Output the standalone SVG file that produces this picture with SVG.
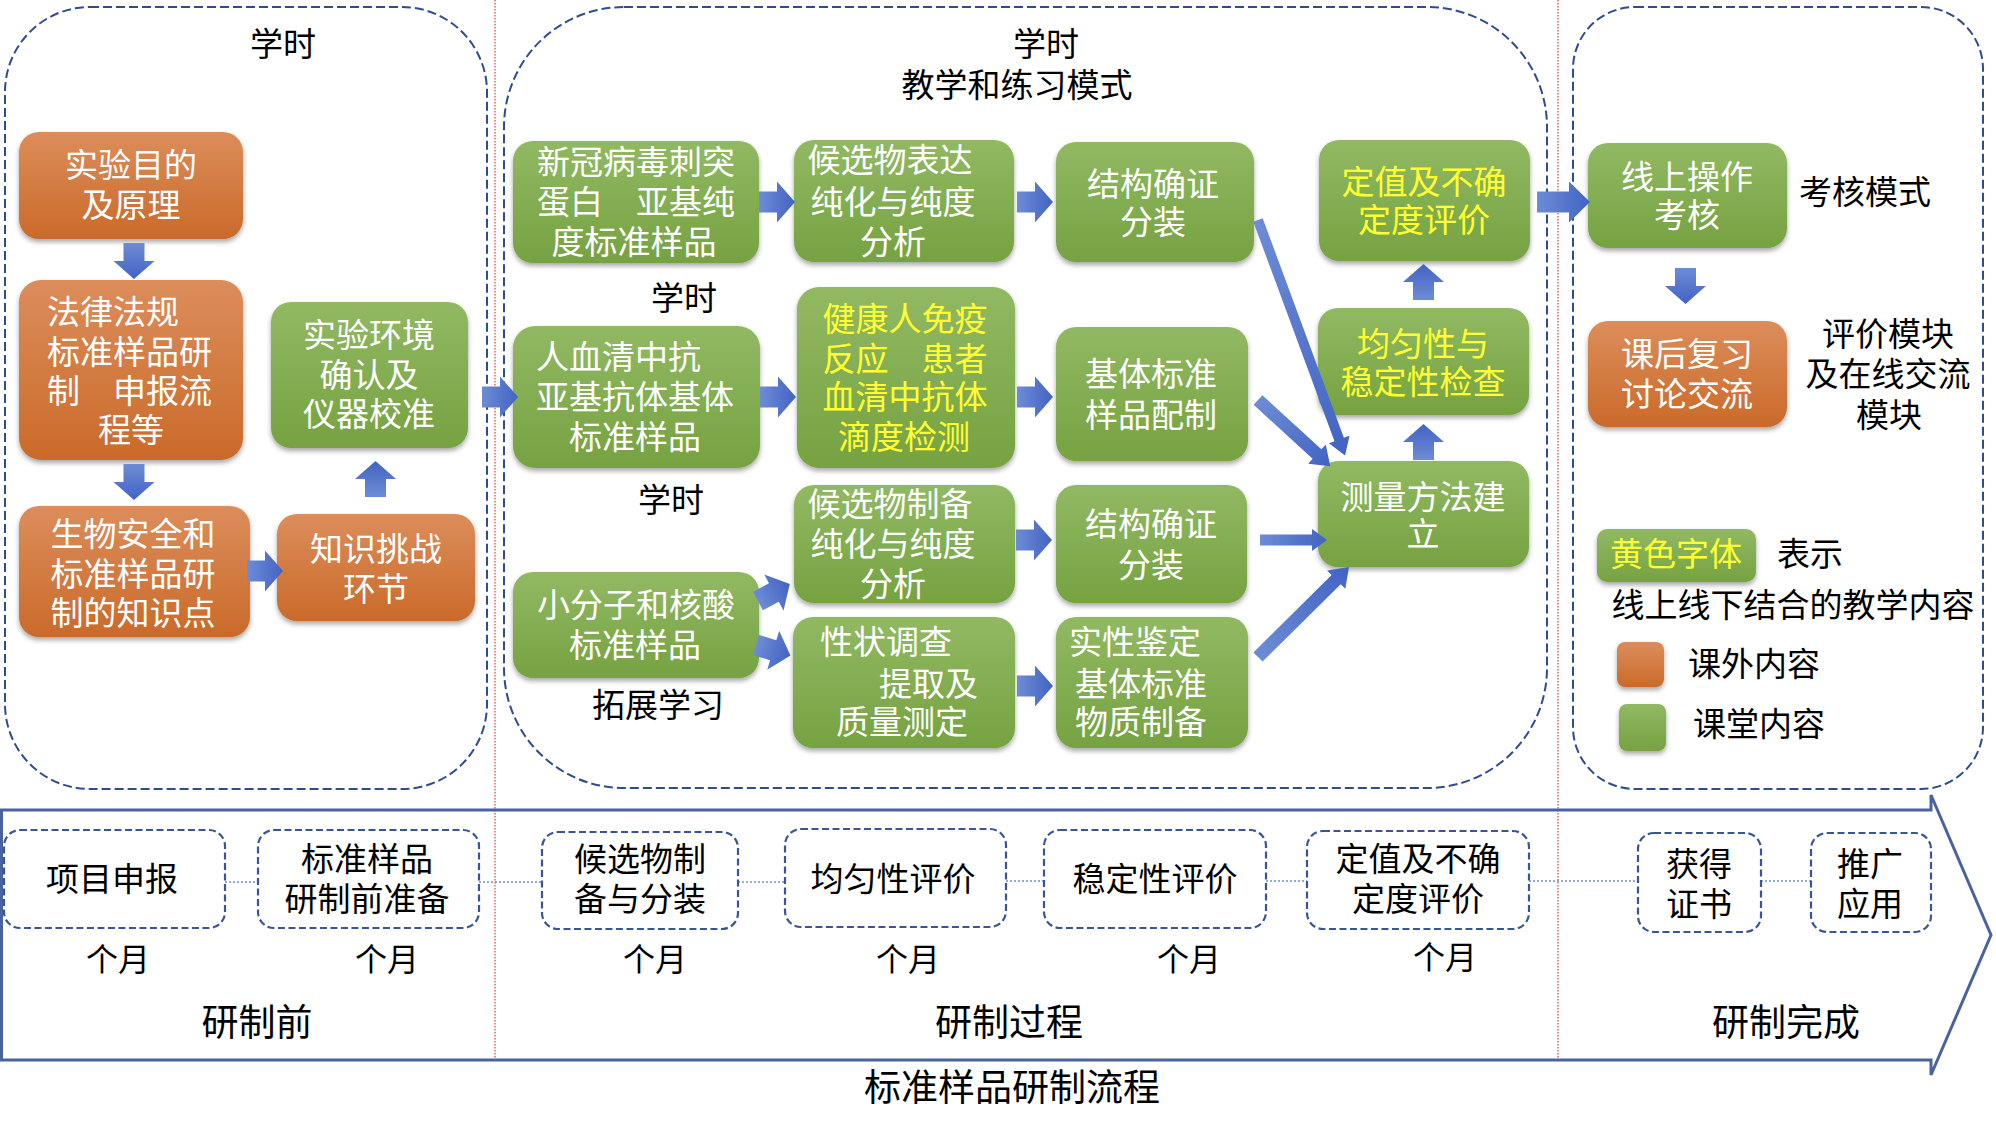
<svg xmlns="http://www.w3.org/2000/svg" xmlns:xlink="http://www.w3.org/1999/xlink" width="1996" height="1133" viewBox="0 0 1996 1133">
<style>
text{font-family:"Noto Sans CJK SC","Liberation Sans",sans-serif;font-size:33px;dominant-baseline:central}
.c{text-anchor:middle}
.w{fill:#fff}
.y{fill:#FFFF33}
.k{fill:#000}
.big{font-size:37px}
.mo{font-size:32px}
.or{fill:url(#gO);filter:url(#sh)}
.gr{fill:url(#gG);filter:url(#sh)}
.panel{fill:none;stroke:#2F4C8C;stroke-width:2;stroke-dasharray:9 4}
.bx{fill:#fff;stroke:#3A5597;stroke-width:2.2;stroke-dasharray:7 3.5}
.dl{stroke:#6F8FD6;stroke-width:1.6;stroke-dasharray:2 2;fill:none}
.rl{stroke:#E05A5A;stroke-width:1.4;stroke-dasharray:1.5 1.5;fill:none}
.ar{fill:url(#gB)}
</style>
<defs>
<linearGradient id="gO" x1="0" y1="0" x2="0" y2="1"><stop offset="0" stop-color="#DC8D5B"/><stop offset="1" stop-color="#CA6A2A"/></linearGradient>
<linearGradient id="gG" x1="0" y1="0" x2="0" y2="1"><stop offset="0" stop-color="#91B963"/><stop offset="1" stop-color="#76A241"/></linearGradient>
<linearGradient id="gB" x1="0" y1="0" x2="1" y2="0"><stop offset="0" stop-color="#6D8CD6"/><stop offset="1" stop-color="#4263C4"/></linearGradient>
<filter id="sh" x="-10%" y="-10%" width="120%" height="130%"><feDropShadow dx="0" dy="3" stdDeviation="2.5" flood-color="#000" flood-opacity="0.35"/></filter>
<path id="fa" d="M0,-10.5 H18 V-20.5 L36,0 L18,20.5 V10.5 H0 Z"/>
</defs>

<!-- separators -->
<g id="separators">
<line class="rl" x1="495" y1="0" x2="495" y2="1060"/>
<line class="rl" x1="1558" y1="0" x2="1558" y2="1060"/>
</g>

<!-- panels -->
<g id="panels">
<rect class="panel" x="5" y="7" width="482" height="782" rx="85"/>
<rect class="panel" x="504" y="7" width="1043" height="781" rx="120"/>
<rect class="panel" x="1573" y="7" width="410" height="782" rx="62"/>
</g>

<!-- labels -->
<g id="labels">
<text class="k c" x="283" y="42">学时</text>
<text class="k c" x="1046" y="42">学时</text>
<text class="k c" x="1017" y="83">教学和练习模式</text>
<text class="k c" x="684" y="296">学时</text>
<text class="k c" x="671" y="498">学时</text>
<text class="k c" x="658" y="703">拓展学习</text>
<text class="k c" x="1865" y="190">考核模式</text>
<text class="k c" x="1888" y="332">评价模块</text>
<text class="k c" x="1888" y="372">及在线交流</text>
<text class="k c" x="1889" y="413">模块</text>
</g>

<!-- left panel nodes -->
<g id="n1"><rect class="or" x="19" y="132" width="224" height="107" rx="20"/>
<text class="w c" x="131" y="163">实验目的</text><text class="w c" x="131" y="203">及原理</text></g>
<g id="n2"><rect class="or" x="19" y="280" width="224" height="180" rx="22"/>
<text class="w" x="47" y="310">法律法规</text><text class="w" x="47" y="350">标准样品研</text><text class="w" x="47" y="389">制　申报流</text><text class="w c" x="131" y="428">程等</text></g>
<g id="n3"><rect class="gr" x="271" y="302" width="197" height="146" rx="20"/>
<text class="w c" x="369" y="333">实验环境</text><text class="w c" x="369" y="373">确认及</text><text class="w c" x="369" y="412">仪器校准</text></g>
<g id="n4"><rect class="or" x="19" y="506" width="231" height="131" rx="20"/>
<text class="w c" x="133" y="532">生物安全和</text><text class="w c" x="133" y="572">标准样品研</text><text class="w c" x="133" y="611">制的知识点</text></g>
<g id="n5"><rect class="or" x="277" y="514" width="198" height="107" rx="20"/>
<text class="w c" x="376" y="547">知识挑战</text><text class="w c" x="376" y="587">环节</text></g>

<!-- middle panel nodes -->
<g id="m1"><rect class="gr" x="513" y="141" width="246" height="122" rx="20"/>
<text class="w c" x="636" y="160">新冠病毒刺突</text><text class="w c" x="636" y="200">蛋白　亚基纯</text><text class="w c" x="634" y="240">度标准样品</text></g>
<g id="m2"><rect class="gr" x="794" y="140" width="220" height="122" rx="20"/>
<text class="w c" x="890" y="158">候选物表达</text><text class="w c" x="893" y="200">纯化与纯度</text><text class="w c" x="893" y="240">分析</text></g>
<g id="m3"><rect class="gr" x="1056" y="142" width="198" height="120" rx="20"/>
<text class="w c" x="1153" y="182">结构确证</text><text class="w c" x="1153" y="220">分装</text></g>
<g id="m4"><rect class="gr" x="1319" y="140" width="211" height="121" rx="20"/>
<text class="y c" x="1424" y="180">定值及不确</text><text class="y c" x="1424" y="218">定度评价</text></g>
<g id="m5"><rect class="gr" x="1318" y="308" width="211" height="107" rx="20"/>
<text class="y c" x="1423" y="342">均匀性与</text><text class="y c" x="1423" y="380">稳定性检查</text></g>
<g id="m6"><rect class="gr" x="1318" y="461" width="211" height="106" rx="20"/>
<text class="w c" x="1423" y="495">测量方法建</text><text class="w c" x="1423" y="532">立</text></g>
<g id="m7"><rect class="gr" x="513" y="326" width="247" height="142" rx="22"/>
<text class="w" x="536" y="355">人血清中抗</text><text class="w" x="536" y="395">亚基抗体基体</text><text class="w c" x="635" y="435">标准样品</text></g>
<g id="m8"><rect class="gr" x="797" y="287" width="218" height="181" rx="22"/>
<text class="y c" x="905" y="317">健康人免疫</text><text class="y c" x="905" y="357">反应　患者</text><text class="y c" x="905" y="395">血清中抗体</text><text class="y c" x="904" y="435">滴度检测</text></g>
<g id="m9"><rect class="gr" x="1056" y="327" width="192" height="134" rx="20"/>
<text class="w c" x="1151" y="372">基体标准</text><text class="w c" x="1151" y="413">样品配制</text></g>
<g id="m10"><rect class="gr" x="794" y="485" width="221" height="118" rx="20"/>
<text class="w c" x="890" y="502">候选物制备</text><text class="w c" x="893" y="542">纯化与纯度</text><text class="w c" x="893" y="582">分析</text></g>
<g id="m11"><rect class="gr" x="1056" y="485" width="191" height="118" rx="20"/>
<text class="w c" x="1151" y="522">结构确证</text><text class="w c" x="1151" y="563">分装</text></g>
<g id="m12"><rect class="gr" x="513" y="572" width="246" height="106" rx="20"/>
<text class="w c" x="636" y="603">小分子和核酸</text><text class="w c" x="635" y="643">标准样品</text></g>
<g id="m13"><rect class="gr" x="793" y="617" width="222" height="131" rx="20"/>
<text class="w" x="820" y="640">性状调查</text><text class="w" x="879" y="682">提取及</text><text class="w c" x="902" y="720">质量测定</text></g>
<g id="m14"><rect class="gr" x="1056" y="617" width="192" height="131" rx="20"/>
<text class="w" x="1069" y="640">实性鉴定</text><text class="w c" x="1141" y="682">基体标准</text><text class="w c" x="1141" y="720">物质制备</text></g>

<!-- right panel nodes -->
<g id="r1"><rect class="gr" x="1588" y="143" width="199" height="105" rx="20"/>
<text class="w c" x="1687" y="175">线上操作</text><text class="w c" x="1687" y="213">考核</text></g>
<g id="r2"><rect class="or" x="1588" y="321" width="199" height="106" rx="20"/>
<text class="w c" x="1687" y="352">课后复习</text><text class="w c" x="1687" y="392">讨论交流</text></g>

<!-- legend -->
<g id="legend">
<rect class="gr" x="1597" y="529" width="159" height="53" rx="10"/>
<text class="y c" x="1676" y="552">黄色字体</text>
<text class="k" x="1777" y="552">表示</text>
<text class="k c" x="1793" y="603">线上线下结合的教学内容</text>
<rect class="or" x="1617" y="642" width="47" height="45" rx="8"/>
<text class="k" x="1688" y="662">课外内容</text>
<rect class="gr" x="1619" y="704" width="47" height="47" rx="8"/>
<text class="k" x="1693" y="722">课堂内容</text>
</g>

<!-- connectors -->
<g id="connectors">
<use href="#fa" class="ar" transform="translate(134,243) rotate(90)"/>
<use href="#fa" class="ar" transform="translate(134,464) rotate(90)"/>
<use href="#fa" class="ar" transform="translate(247,571)"/>
<use href="#fa" class="ar" transform="translate(375.5,497) rotate(-90)"/>
<use href="#fa" class="ar" transform="translate(482,397)"/>
<use href="#fa" class="ar" transform="translate(759,202)"/>
<use href="#fa" class="ar" transform="translate(1017,202)"/>
<use href="#fa" class="ar" transform="translate(760,397)"/>
<use href="#fa" class="ar" transform="translate(1017,397)"/>
<use href="#fa" class="ar" transform="translate(1016,540)"/>
<use href="#fa" class="ar" transform="translate(1017,686)"/>
<use href="#fa" class="ar" transform="translate(758,601) rotate(-28)"/>
<use href="#fa" class="ar" transform="translate(756,645) rotate(17)"/>
<use href="#fa" class="ar" transform="translate(1423.5,300) rotate(-90)"/>
<use href="#fa" class="ar" transform="translate(1423.5,460) rotate(-90)"/>
<use href="#fa" class="ar" transform="translate(1685.5,268) rotate(90)"/>
<path class="ar" d="M1537,191.5 H1569 V181.5 L1590,202 L1569,222.5 V212.5 H1537 Z"/>
<path class="ar" transform="translate(1258,220) rotate(69.7)" d="M0,-5 H234 V-11 L251,0 L234,11 V5 H0 Z"/>
<path class="ar" transform="translate(1258,400) rotate(42.5)" d="M0,-6.5 H80 V-13 L98,0 L80,13 V6.5 H0 Z"/>
<path class="ar" transform="translate(1260,540)" d="M0,-5.5 H52 V-11 L67,0 L52,11 V5.5 H0 Z"/>
<path class="ar" transform="translate(1258,657) rotate(-44.7)" d="M0,-6.5 H110 V-13 L128,0 L110,13 V6.5 H0 Z"/>
</g>

<!-- timeline -->
<g id="timeline">
<path d="M1.5,810 H1931 V795 L1991,935 L1931,1075 V1060 H1.5 Z" fill="none" stroke="#4A63A0" stroke-width="3"/>
<g id="tl-links">
<line class="dl" x1="225" y1="882" x2="258" y2="882"/>
<line class="dl" x1="479" y1="882" x2="542" y2="882"/>
<line class="dl" x1="738" y1="882" x2="785" y2="882"/>
<line class="dl" x1="1006" y1="881" x2="1044" y2="881"/>
<line class="dl" x1="1266" y1="881" x2="1307" y2="881"/>
<line class="dl" x1="1529" y1="881" x2="1638" y2="881"/>
<line class="dl" x1="1761" y1="881" x2="1811" y2="881"/>
</g>
<g id="b1"><rect class="bx" x="4" y="830" width="221" height="98" rx="16"/><text class="k c" x="112" y="877">项目申报</text></g>
<g id="b2"><rect class="bx" x="258" y="830" width="221" height="98" rx="16"/><text class="k c" x="367" y="857">标准样品</text><text class="k c" x="367" y="897">研制前准备</text></g>
<g id="b3"><rect class="bx" x="542" y="832" width="196" height="97" rx="16"/><text class="k c" x="640" y="857">候选物制</text><text class="k c" x="640" y="897">备与分装</text></g>
<g id="b4"><rect class="bx" x="785" y="829" width="221" height="98" rx="16"/><text class="k c" x="893" y="877">均匀性评价</text></g>
<g id="b5"><rect class="bx" x="1044" y="830" width="222" height="98" rx="16"/><text class="k c" x="1155" y="877">稳定性评价</text></g>
<g id="b6"><rect class="bx" x="1307" y="831" width="222" height="98" rx="16"/><text class="k c" x="1418" y="857">定值及不确</text><text class="k c" x="1418" y="897">定度评价</text></g>
<g id="b7"><rect class="bx" x="1638" y="833" width="123" height="99" rx="16"/><text class="k c" x="1699" y="862">获得</text><text class="k c" x="1699" y="902">证书</text></g>
<g id="b8"><rect class="bx" x="1811" y="833" width="120" height="99" rx="16"/><text class="k c" x="1870" y="862">推广</text><text class="k c" x="1870" y="902">应用</text></g>
<text class="k c mo" x="118" y="957">个月</text>
<text class="k c mo" x="387" y="957">个月</text>
<text class="k c mo" x="655" y="957">个月</text>
<text class="k c mo" x="908" y="957">个月</text>
<text class="k c mo" x="1189" y="957">个月</text>
<text class="k c mo" x="1445" y="955">个月</text>
<text class="k c big" x="257" y="1020">研制前</text>
<text class="k c big" x="1009" y="1020">研制过程</text>
<text class="k c big" x="1786" y="1020">研制完成</text>
<text class="k c big" x="1012" y="1085">标准样品研制流程</text>
</g>
</svg>
